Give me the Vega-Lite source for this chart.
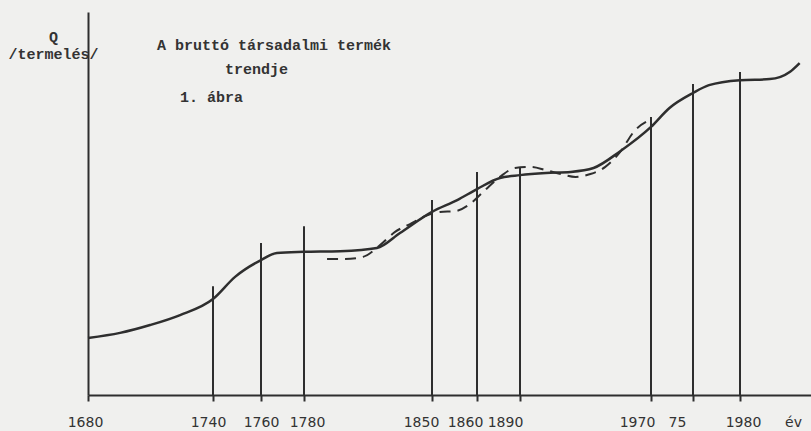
{
  "$schema": "https://vega.github.io/schema/vega-lite/v6.json",
  "width": 723,
  "height": 383,
  "autosize": "none",
  "padding": {"left": 88, "top": 12, "right": 0, "bottom": 36},
  "background": "#f0f0ee",
  "config": {"view": {"stroke": null}, "axis": {"grid": false}},
  "datasets": {
    "trend": [
      {"year": 1680, "q": 16.0}, {"year": 1695.4, "q": 17.4}, {"year": 1709.8, "q": 19.6},
      {"year": 1724.2, "q": 22.4}, {"year": 1740, "q": 26.9}, {"year": 1749.2, "q": 33.1},
      {"year": 1760, "q": 37.8}, {"year": 1767.4, "q": 39.8}, {"year": 1780, "q": 40.1},
      {"year": 1799.7, "q": 40.3}, {"year": 1819.9, "q": 41.2}, {"year": 1832.5, "q": 45.4},
      {"year": 1850, "q": 51.3}, {"year": 1855.6, "q": 54.6}, {"year": 1860, "q": 57.7},
      {"year": 1876.0, "q": 60.8}, {"year": 1890, "q": 61.6}, {"year": 1905.8, "q": 62.2},
      {"year": 1920.9, "q": 62.5}, {"year": 1934.9, "q": 63.6}, {"year": 1951.2, "q": 68.3},
      {"year": 1970, "q": 75.1}, {"year": 1972.2, "q": 80.4}, {"year": 1975, "q": 84.6},
      {"year": 1976.7, "q": 86.8}, {"year": 1980, "q": 88.2}, {"year": 1984.2, "q": 88.5},
      {"year": 1987.0, "q": 90.5}, {"year": 1988.4, "q": 93.0}
    ],
    "cycle": [
      {"year": 1792.6, "q": 38.1}, {"year": 1802.4, "q": 38.1}, {"year": 1812.3, "q": 38.7},
      {"year": 1821.6, "q": 42.0}, {"year": 1829.8, "q": 45.7}, {"year": 1838.0, "q": 47.9},
      {"year": 1846.2, "q": 50.1}, {"year": 1851.8, "q": 51.3}, {"year": 1855.1, "q": 51.5},
      {"year": 1858.4, "q": 53.5}, {"year": 1865.6, "q": 57.4}, {"year": 1876.0, "q": 61.1},
      {"year": 1886.5, "q": 63.6}, {"year": 1896.7, "q": 63.9}, {"year": 1905.8, "q": 63.0},
      {"year": 1914.9, "q": 61.9}, {"year": 1923.9, "q": 61.1}, {"year": 1933.0, "q": 61.9},
      {"year": 1942.1, "q": 63.9}, {"year": 1951.2, "q": 68.1}, {"year": 1960.3, "q": 74.2},
      {"year": 1968.2, "q": 76.8}
    ],
    "marks": [
      {"year": 1740, "top": 30.5}, {"year": 1760, "top": 42.6}, {"year": 1780, "top": 47.3},
      {"year": 1850, "top": 54.6}, {"year": 1860, "top": 62.5}, {"year": 1890, "top": 63.9},
      {"year": 1970, "top": 77.9}, {"year": 1975, "top": 87.1}, {"year": 1980, "top": 90.5}
    ],
    "notes": [
      {"label": "A bruttó társadalmi termék", "year": 1713.1, "q": 98.0},
      {"label": "trendje", "year": 1745.0, "q": 91.3},
      {"label": "1. ábra", "year": 1724.2, "q": 83.5}
    ]
  },
  "layer": [
    {
      "data": {"name": "marks"},
      "mark": {"type": "rule", "color": "#2e2e2e", "strokeWidth": 2},
      "encoding": {
        "x": {"field": "year", "type": "quantitative",
              "scale": {"domain": [1680, 1740, 1760, 1780, 1850, 1860, 1890, 1970, 1975, 1980, 1990], "range": [0, 125, 173, 216, 344, 389, 432, 563, 605, 652, 723], "nice": false, "zero": false},
              "axis": {
                "values": [1680, 1740, 1760, 1780, 1850, 1860, 1890, 1970, 1975, 1980],
                "labelExpr": "datum.value == 1975 ? '75' : '' + datum.value",
                "labelOffset": {"expr": "datum.value == 1680 ? -3 : datum.value == 1740 ? -5 : datum.value == 1780 ? 3 : datum.value == 1850 ? -11 : datum.value == 1860 ? -12 : datum.value == 1890 ? -15 : datum.value == 1970 ? -14 : datum.value == 1975 ? -16 : datum.value == 1980 ? 3 : 0"},
                "domainColor": "#2e2e2e", "domainWidth": 2,
                "tickColor": "#2e2e2e", "tickWidth": 2, "tickSize": 6,
                "labelFont": "DejaVu Sans", "labelFontSize": 14, "labelColor": "#333333",
                "labelPadding": 14, "labelAngle": 0, "labelFlush": false, "labelOverlap": false,
                "title": "év", "titleFont": "DejaVu Sans", "titleFontSize": 14, "titleFontWeight": "normal",
                "titleColor": "#333333", "titleX": 705, "titleY": 27, "titleAlign": "center", "titleBaseline": "middle"
              }},
        "y": {"field": "top", "type": "quantitative",
              "scale": {"domain": [0, 107.3], "nice": false, "zero": false},
              "axis": {
                "ticks": false, "labels": false,
                "domainColor": "#2e2e2e", "domainWidth": 2,
                "title": ["Q", "/termelés/"], "titleAngle": 0, "titleX": -35, "titleY": 24,
                "titleAlign": "center", "titleBaseline": "middle", "titleLineHeight": 17,
                "titleFont": "Liberation Mono", "titleFontSize": 15, "titleFontWeight": "bold", "titleColor": "#333333"
              }},
        "y2": {"datum": 0}
      }
    },
    {
      "data": {"name": "trend"},
      "mark": {"type": "line", "color": "#2e2e2e", "strokeWidth": 2.5, "interpolate": "monotone"},
      "encoding": {
        "x": {"field": "year", "type": "quantitative"},
        "y": {"field": "q", "type": "quantitative"}
      }
    },
    {
      "data": {"name": "cycle"},
      "mark": {"type": "line", "color": "#2e2e2e", "strokeWidth": 2, "strokeDash": [11, 7], "interpolate": "monotone"},
      "encoding": {
        "x": {"field": "year", "type": "quantitative"},
        "y": {"field": "q", "type": "quantitative"}
      }
    },
    {
      "data": {"name": "notes"},
      "mark": {"type": "text", "align": "left", "baseline": "middle", "font": "Liberation Mono", "fontSize": 15, "fontWeight": "bold", "color": "#333333"},
      "encoding": {
        "x": {"field": "year", "type": "quantitative"},
        "y": {"field": "q", "type": "quantitative"},
        "text": {"field": "label"}
      }
    }
  ]
}
